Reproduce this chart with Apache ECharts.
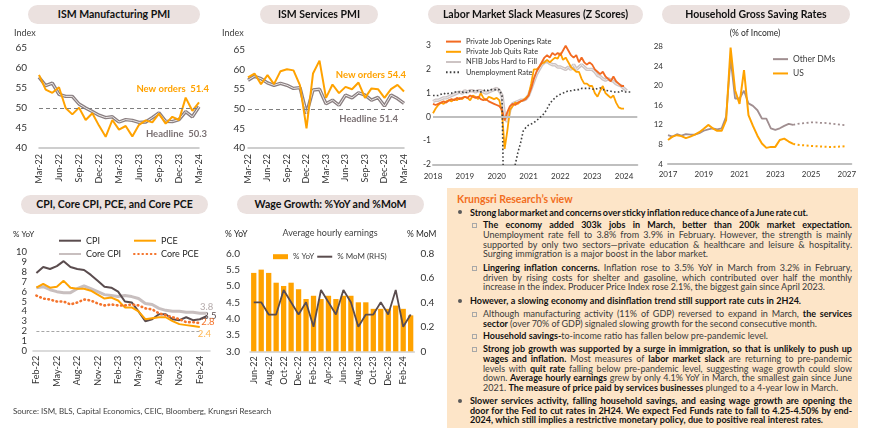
<!DOCTYPE html>
<html><head><meta charset="utf-8">
<script src="https://cdn.jsdelivr.net/npm/echarts@6.0.0/dist/echarts.min.js"></script>
<style>
html,body{margin:0;padding:0;background:#fff;}
body{width:870px;height:438px;position:relative;overflow:hidden;font-family:Lato,'Noto Sans',sans-serif;}
.ch{position:absolute;}
.pill{position:absolute;height:19px;line-height:19px;border-radius:10px;background:#ebe1df;text-align:center;font-weight:700;font-size:10.5px;color:#111;white-space:nowrap;}
#panel{position:absolute;left:447px;top:188px;width:411px;height:240px;background:#fde5c8;}
.ttl{position:absolute;font-size:10.5px;line-height:13px;font-weight:700;color:#f26d21;white-space:nowrap;}
.p{position:absolute;font-size:8.6px;line-height:9.65px;color:#3a3a3a;}
.p b{color:#111;font-weight:700;}
.pb{left:470px;width:382px;}
.ps{left:483px;width:369px;}
.ln{white-space:nowrap;}
.dot{position:absolute;left:458px;width:4px;height:4px;border-radius:2px;background:#595959;}
.sq{position:absolute;left:472px;width:2.5px;height:2.5px;border:0.8px solid #a8a8a8;}
.src{position:absolute;left:13px;top:405.5px;font-size:8px;line-height:10px;color:#404040;white-space:nowrap;}
</style></head>
<body>
<div id="c1" class="ch" style="left:0;top:0;width:215px;height:192px"></div>
<div id="c2" class="ch" style="left:215px;top:0;width:215px;height:192px"></div>
<div id="c3" class="ch" style="left:415px;top:0;width:230px;height:190px"></div>
<div id="c4" class="ch" style="left:645px;top:0;width:225px;height:190px"></div>
<div id="c5" class="ch" style="left:0;top:190px;width:222px;height:212px"></div>
<div id="c6" class="ch" style="left:220px;top:190px;width:225px;height:212px"></div>

<div class="pill" style="left:28px;top:5px;width:172px">ISM Manufacturing PMI</div>
<div class="pill" style="left:260px;top:5px;width:118px">ISM Services PMI</div>
<div class="pill" style="left:428px;top:5px;width:215px">Labor Market Slack Measures (Z Scores)</div>
<div class="pill" style="left:662px;top:5px;width:188px">Household Gross Saving Rates</div>
<div class="pill" style="left:21px;top:195px;width:187px">CPI, Core CPI, PCE, and Core PCE</div>
<div class="pill" style="left:237px;top:195px;width:187px">Wage Growth: %YoY and %MoM</div>

<div id="panel"></div>
<div class="ttl" style="left:457px;top:192.5px">Krungsri Research’s view</div>

<span class="dot" style="top:210.3px"></span>
<div class="p pb" style="top:207.5px"><div class="ln" data-w="338"><span><b>Strong labor market and concerns over sticky inflation reduce chance of a June rate cut.</b></span></div></div>

<span class="sq" style="top:223.4px"></span>
<div class="p ps" style="top:220.2px">
<div class="ln j" data-w="369"><span><b>The economy added 303k jobs in March, better than 200k market expectation.</b></span></div>
<div class="ln j" data-w="369"><span>Unemployment rate fell to 3.8% from 3.9% in February. However, the strength is mainly</span></div>
<div class="ln j" data-w="369"><span>supported by only two sectors—private education &amp; healthcare and leisure &amp; hospitality.</span></div>
<div class="ln" data-w="225"><span>Surging immigration is a major boost in the labor market.</span></div>
</div>

<span class="sq" style="top:266.1px"></span>
<div class="p ps" style="top:262.9px">
<div class="ln j" data-w="369"><span><b>Lingering inflation concerns.</b> Inflation rose to 3.5% YoY in March from 3.2% in February,</span></div>
<div class="ln j" data-w="369"><span>driven by rising costs for shelter and gasoline, which contributed over half the monthly</span></div>
<div class="ln" data-w="342"><span>increase in the index. Producer Price Index rose 2.1%, the biggest gain since April 2023.</span></div>
</div>

<span class="dot" style="top:298.7px"></span>
<div class="p pb" style="top:295.9px"><div class="ln" data-w="331"><span><b>However, a slowing economy and disinflation trend still support rate cuts in 2H24.</b></span></div></div>

<span class="sq" style="top:312.4px"></span>
<div class="p ps" style="top:309.2px">
<div class="ln j" data-w="369"><span>Although manufacturing activity (11% of GDP) reversed to expand in March, <b>the services</b></span></div>
<div class="ln" data-w="334"><span><b>sector</b> (over 70% of GDP) signaled slowing growth for the second consecutive month.</span></div>
</div>

<span class="sq" style="top:334.1px"></span>
<div class="p ps" style="top:330.9px">
<div class="ln" data-w="285"><span><b>Household savings-</b>to-income ratio has fallen below pre-pandemic level.</span></div>
</div>

<span class="sq" style="top:347.4px"></span>
<div class="p ps" style="top:344.2px">
<div class="ln j" data-w="369"><span><b>Strong job growth was supported by a surge in immigration, so that is unlikely to push up</b></span></div>
<div class="ln j" data-w="369"><span><b>wages and inflation.</b> Most measures of <b>labor market slack</b> are returning to pre-pandemic</span></div>
<div class="ln j" data-w="369"><span>levels with <b>quit rate</b> falling below pre-pandemic level, suggesting wage growth could slow</span></div>
<div class="ln j" data-w="369"><span>down. <b>Average hourly earnings</b> grew by only 4.1% YoY in March, the smallest gain since June</span></div>
<div class="ln" data-w="355"><span>2021. <b>The measure of price paid by services businesses</b> plunged to a 4-year low in March.</span></div>
</div>

<span class="dot" style="top:398.7px"></span>
<div class="p pb" style="top:395.9px">
<div class="ln j" data-w="382"><span><b>Slower services activity, falling household savings, and easing wage growth are opening the</b></span></div>
<div class="ln j" data-w="382"><span><b>door for the Fed to cut rates in 2H24. We expect Fed Funds rate to fall to 4.25-4.50% by end-</b></span></div>
<div class="ln" data-w="353"><span><b>2024, which still implies a restrictive monetary policy, due to positive real interest rates.</b></span></div>
</div>

<div class="src">Source: ISM, BLS, Capital Economics, CEIC, Bloomberg, Krungsri Research</div>

<script>
// ---------- DATA ----------
const pmiMonths = ['Mar-22','Apr-22','May-22','Jun-22','Jul-22','Aug-22','Sep-22','Oct-22','Nov-22','Dec-22','Jan-23','Feb-23','Mar-23','Apr-23','May-23','Jun-23','Jul-23','Aug-23','Sep-23','Oct-23','Nov-23','Dec-23','Jan-24','Feb-24','Mar-24'];
const mfgHeadline = [57.7,55.6,56.2,53.4,52.9,52.9,51.0,50.0,49.1,48.2,47.6,47.8,46.5,47.1,46.9,46.4,46.5,47.6,48.8,46.7,46.6,47.1,49.1,47.8,50.3];
const mfgNewOrders = [58.3,54.6,53.8,55.2,50.0,48.4,50.1,47.0,48.7,45.6,42.8,47.0,44.6,45.5,42.9,45.8,46.9,46.4,48.6,46.1,47.8,47.0,52.6,49.3,51.4];
const svcHeadline = [57.3,58.3,57.7,56.6,56.0,56.5,56.0,55.2,55.4,48.8,54.8,55.0,51.3,52.2,50.9,53.5,52.8,54.1,53.5,52.2,52.9,50.7,53.5,52.6,51.4];
const svcNewOrders = [58.0,59.0,56.3,58.6,56.3,59.6,60.1,59.8,56.0,45.0,59.0,62.3,52.8,56.2,54.0,55.6,55.0,56.7,52.8,55.2,55.0,52.8,55.0,56.1,54.4];

// Labor market slack, monthly from Jan 2018
const slackStartYear = 2018, slackMonthsCount = 78;
const jobOpenings = [0.55,0.5,0.55,0.6,0.65,0.6,0.7,0.75,0.7,0.8,0.75,0.8,
 0.85,0.8,0.9,0.85,0.8,0.85,0.75,0.7,0.75,0.65,0.6,0.55,
 0.5,0.45,0.3,-0.15,0.2,0.45,0.55,0.5,0.6,0.65,0.7,0.75,
 0.9,1.2,1.6,1.9,2.1,2.3,2.5,2.6,2.5,2.7,2.6,2.7,
 2.6,2.8,3.0,2.8,2.6,2.5,2.6,2.3,2.5,2.3,2.2,2.3,
 2.2,2.0,1.9,1.8,1.9,1.7,1.6,1.5,1.7,1.5,1.4,1.3,
 1.3];
const jobQuits = [0.15,0.35,0.5,0.6,0.55,0.65,0.7,0.65,0.75,0.7,0.8,0.75,
 0.85,0.8,0.7,0.9,0.85,0.75,1.0,0.8,0.7,0.85,0.8,0.75,
 0.8,0.7,0.2,-1.35,-0.6,0.3,0.45,0.6,0.55,0.65,0.7,0.8,
 0.9,1.4,2.0,2.0,2.1,2.25,2.3,2.4,2.3,2.4,2.5,2.45,
 2.7,2.4,2.5,2.3,2.1,2.0,1.9,1.9,1.6,1.4,1.4,1.3,
 1.3,1.0,0.85,1.1,1.3,1.0,0.9,0.8,0.9,0.6,0.4,0.35,
 0.35];
const nfibHardToFill = [0.65,0.7,0.7,0.75,0.8,0.8,0.85,0.9,0.95,1.0,1.05,1.0,
 1.1,1.05,1.1,1.1,1.05,1.1,1.1,1.05,1.0,1.05,1.1,1.15,
 1.2,1.1,0.9,0.0,-0.2,0.3,0.55,0.6,0.65,0.7,0.7,0.75,
 0.9,1.2,1.5,1.8,2.0,2.2,2.3,2.35,2.25,2.2,2.2,2.1,
 2.1,2.05,2.0,2.1,2.0,2.2,2.0,2.1,2.2,2.1,2.0,2.0,
 2.0,1.9,1.75,1.7,1.6,1.55,1.6,1.55,1.5,1.4,1.35,1.3,
 1.2,1.1];
const unemploymentRate = [0.9,0.9,0.9,0.95,1.0,0.95,1.0,1.0,1.05,1.05,1.05,1.05,
 1.0,1.05,1.1,1.1,1.1,1.1,1.05,1.1,1.15,1.1,1.15,1.15,
 1.15,1.15,0.9,-6.0,-5.2,-4.2,-3.0,-2.0,-1.5,-1.1,-0.6,-0.45,
 -0.35,-0.3,-0.25,-0.15,-0.07,0.05,0.15,0.35,0.55,0.7,0.8,0.9,
 0.95,1.0,1.05,1.1,1.1,1.12,1.15,1.15,1.2,1.2,1.2,1.2,
 1.18,1.15,1.2,1.22,1.15,1.12,1.1,1.08,1.05,1.05,1.05,1.1,
 1.05,1.05,1.05,1.05];

// Household gross saving rates, quarterly from 2017Q1
const savingStartYear = 2017, savingQuarterCount = 42, savingFcstStart = 28;
const usSaving = [8.9,9.6,9.9,9.7,9.3,9.6,10.0,10.5,11.2,12.0,11.3,10.8,10.8,13.0,27.8,19.1,16.3,23.2,14.0,11.8,9.8,8.2,7.3,7.5,7.5,8.9,9.2,8.6,8.1];
const usSavingFcst = [8.1,7.95,7.85,7.8,7.7,7.65,7.6,7.55,7.5,7.5,7.55,7.6,7.7];
const dmSaving = [9.9,9.6,10.1,9.8,10.1,10.0,10.0,10.3,10.8,11.1,11.3,11.1,11.3,13.7,25.6,17.4,17.4,19.0,16.4,15.9,15.0,13.3,13.3,11.3,11.0,11.3,11.8,12.2,12.0];
const dmSavingFcst = [12.0,12.2,12.3,12.4,12.5,12.5,12.4,12.4,12.3,12.2,12.1,12.0,11.9];

// Inflation
const inflMonths = ['Feb-22','Mar-22','Apr-22','May-22','Jun-22','Jul-22','Aug-22','Sep-22','Oct-22','Nov-22','Dec-22','Jan-23','Feb-23','Mar-23','Apr-23','May-23','Jun-23','Jul-23','Aug-23','Sep-23','Oct-23','Nov-23','Dec-23','Jan-24','Feb-24','Mar-24'];
const cpi = [7.9,8.5,8.3,8.6,9.1,8.5,8.3,8.2,7.7,7.1,6.5,6.4,6.0,5.0,4.9,4.0,3.0,3.2,3.7,3.7,3.2,3.1,3.4,3.1,3.2,3.5];
const coreCpi = [6.4,6.5,6.2,6.0,5.9,5.9,6.3,6.6,6.3,6.0,5.7,5.6,5.5,5.6,5.5,5.3,4.8,4.7,4.3,4.1,4.0,4.0,3.9,3.9,3.8,3.8];
const pce = [6.4,6.8,6.4,6.5,7.1,6.4,6.3,6.3,6.1,5.7,5.3,5.4,5.1,4.4,4.4,4.0,3.2,3.3,3.4,3.4,3.0,2.7,2.6,2.5,2.4];
const corePce = [5.6,5.3,5.2,5.0,5.0,4.7,4.9,5.2,5.1,4.8,4.6,4.7,4.6,4.6,4.7,4.6,4.3,4.2,3.8,3.6,3.4,3.2,2.9,2.9,2.8];
const inflEndLabels = ['3.8','3.5','2.8','2.4'];

// Wages
const wageMonths = ['Jun-22','Jul-22','Aug-22','Sep-22','Oct-22','Nov-22','Dec-22','Jan-23','Feb-23','Mar-23','Apr-23','May-23','Jun-23','Jul-23','Aug-23','Sep-23','Oct-23','Nov-23','Dec-23','Jan-24','Feb-24','Mar-24'];
const aheYoy = [5.4,5.5,5.4,5.1,5.0,5.1,4.9,4.6,4.7,4.6,4.7,4.6,4.7,4.7,4.5,4.5,4.3,4.3,4.3,4.4,4.3,4.1];
const aheMom = [0.4,0.4,0.3,0.3,0.5,0.4,0.3,0.4,0.2,0.5,0.4,0.3,0.5,0.4,0.2,0.3,0.3,0.4,0.3,0.5,0.2,0.3];

// ---------- HELPERS ----------
const FONT = 'Lato, "Noto Sans", sans-serif';
const GRAY = '#bfbfbf', LAB = '#333';
const ORANGE = '#ffa200', RED = '#f26a21';
function mk(id, opt){
  const ch = echarts.init(document.getElementById(id), null, {renderer:'canvas'});
  opt.animation = false;
  opt.textStyle = {fontFamily: FONT};
  ch.setOption(opt);
  return ch;
}
function txt(x, y, text, o){
  return {type:'text', x:x, y:y, silent:true, style:Object.assign({text:text, fontSize:9, fill:'#404040', fontFamily:FONT, align:'left', verticalAlign:'middle'}, o||{})};
}
const padNull = (arr, n) => Array(n).fill(null).concat(arr);
const slackCats = [];
for (let i = 0; i < slackMonthsCount; i++) { const y = slackStartYear + Math.floor(i/12), m = i%12+1; slackCats.push(y + '-' + (m<10?'0':'') + m); }
const savingCats = [];
for (let i = 0; i < savingQuarterCount; i++) { savingCats.push((savingStartYear + Math.floor(i/4)) + ' Q' + (i%4+1)); }
const NOSYM = {opacity:0};

function pmiOption(headline, newOrders, grid, yMargin, graphic){
  return {
    grid: Object.assign({outerBoundsMode:'none'}, grid),
    xAxis: {type:'category', data:pmiMonths, boundaryGap:false,
      axisLine:{lineStyle:{color:GRAY, width:1.5}}, axisTick:{show:false},
      axisLabel:{interval:2, rotate:90, fontSize:9, color:LAB, margin:6}},
    yAxis: {type:'value', min:40, max:65, interval:5, splitLine:{show:false},
      axisLine:{show:false}, axisTick:{show:false},
      axisLabel:{fontSize:10, color:LAB, margin:yMargin}},
    series: [
      {name:'Headline', type:'line', data:headline, symbol:'none', z:2,
        lineStyle:{color:'#8a7f81', width:3.4},
        markLine:{silent:true, symbol:'none', label:{show:false}, emphasis:{disabled:true},
          lineStyle:{color:'#7f7f7f', type:[4,3], width:1.2}, data:[{yAxis:50}]}},
      {name:'Headline inner', type:'line', data:headline, symbol:'none', silent:true, z:3,
        lineStyle:{color:'#ece8e8', width:1}},
      {name:'New orders', type:'line', data:newOrders, symbol:'none', z:4,
        lineStyle:{color:ORANGE, width:2}}
    ],
    graphic: graphic
  };
}

// ---------- CHART 1 ----------
mk('c1', pmiOption(mfgHeadline, mfgNewOrders, {left:39, top:48, width:160, height:100}, 12, [
  txt(14, 33, 'Index'),
  txt(209, 89, 'New orders  51.4', {align:'right', fontWeight:'bold', fontSize:9.5, fill:ORANGE}),
  txt(207, 134, 'Headline  50.3', {align:'right', fontWeight:'bold', fontSize:9.5, fill:'#7b7173'})
]));

// ---------- CHART 2 ----------
mk('c2', pmiOption(svcHeadline, svcNewOrders, {left:33, top:50, width:156, height:98}, 3, [
  txt(7, 33, 'Index'),
  txt(191, 75, 'New orders 54.4', {align:'right', fontWeight:'bold', fontSize:9.5, fill:ORANGE}),
  txt(183, 119, 'Headline 51.4', {align:'right', fontWeight:'bold', fontSize:9.5, fill:'#7b7173'})
]));

// ---------- CHART 3 ----------
mk('c3', {
  grid:{left:18, top:45.7, width:204.3, height:118.6, outerBoundsMode:'none'},
  legend:{orient:'vertical', left:25, top:31.5, itemWidth:15, itemHeight:8, itemGap:0, z:20,
    itemStyle:NOSYM,
    textStyle:{fontSize:7.4, color:'#333', lineHeight:10.2},
    data:['Private Job Openings Rate','Private Job Quits Rate','NFIB Jobs Hard to Fill','Unemployment Rate']},
  xAxis:{type:'category', data:slackCats, boundaryGap:false,
    axisLine:{onZero:false, lineStyle:{color:GRAY, width:2}}, axisTick:{show:false},
    axisLabel:{interval:(i)=>i%12===0, formatter:(v)=>v.slice(0,4), fontSize:8, color:LAB, margin:8}},
  yAxis:{type:'value', min:-2, max:3, interval:1, splitLine:{show:false},
    axisLine:{show:false}, axisTick:{show:false}, axisLabel:{fontSize:8.5, color:LAB, margin:2}},
  series:[
    {name:'NFIB Jobs Hard to Fill', type:'line', data:nfibHardToFill, symbol:'none', z:2,
      lineStyle:{color:'#cdc4c4', width:3.4},
      markLine:{silent:true, symbol:'none', label:{show:false}, emphasis:{disabled:true},
        lineStyle:{color:GRAY, type:'solid', width:2}, data:[{yAxis:0}]}},
    {name:'NFIB inner', type:'line', data:nfibHardToFill, symbol:'none', silent:true, z:2,
      lineStyle:{color:'#eeeaea', width:1}},
    {name:'Private Job Quits Rate', type:'line', data:jobQuits, symbol:'none', z:3,
      lineStyle:{color:ORANGE, width:1.8}},
    {name:'Private Job Openings Rate', type:'line', data:jobOpenings, symbol:'none', z:4,
      lineStyle:{color:RED, width:1.8}},
    {name:'Unemployment Rate', type:'line', data:unemploymentRate, symbol:'none', z:5,
      lineStyle:{color:'#404040', width:1.6, type:[1.6,2.2]}}
  ]
});

// ---------- CHART 4 ----------
mk('c4', {
  grid:{left:23, top:46.7, width:183.3, height:117.3, outerBoundsMode:'none'},
  legend:{orient:'vertical', left:122, top:49, itemWidth:15, itemHeight:8, itemGap:4,
    itemStyle:NOSYM,
    textStyle:{fontSize:8.5, color:'#404040', lineHeight:10.3}, data:['Other DMs','US']},
  xAxis:{type:'category', data:savingCats, boundaryGap:false,
    axisLine:{lineStyle:{color:GRAY, width:2}}, axisTick:{show:false},
    axisLabel:{interval:7, formatter:(v)=>v.slice(0,4), fontSize:8, color:LAB, margin:6}},
  yAxis:{type:'value', min:4, max:28, interval:4, splitLine:{show:false},
    axisLine:{show:false}, axisTick:{show:false}, axisLabel:{fontSize:8, color:LAB, margin:5}},
  series:[
    {name:'Other DMs', type:'line', data:dmSaving, symbol:'none', lineStyle:{color:'#a08e90', width:1.8}},
    {name:'Other DMs forecast', type:'line', data:padNull(dmSavingFcst, savingFcstStart), symbol:'none',
      lineStyle:{color:'#a08e90', width:1.8, type:[2,2.5]}},
    {name:'US', type:'line', data:usSaving, symbol:'none', lineStyle:{color:ORANGE, width:2}},
    {name:'US forecast', type:'line', data:padNull(usSavingFcst, savingFcstStart), symbol:'none',
      lineStyle:{color:ORANGE, width:2, type:[2,2.5]}}
  ],
  graphic:[txt(110, 33, '(% of Income)', {align:'center', fontSize:8.5, fill:'#262626'})]
});

// ---------- CHART 5 ----------
mk('c5', {
  grid:{left:33, top:62.3, width:177, height:98.4, outerBoundsMode:'none'},
  legend:[
    {orient:'vertical', left:53, top:40.7, itemWidth:22, itemHeight:8, itemGap:3.3, itemStyle:NOSYM,
      textStyle:{fontSize:9, color:'#262626', lineHeight:10}, data:['CPI','Core CPI']},
    {orient:'vertical', left:128, top:40.7, itemWidth:22, itemHeight:8, itemGap:3.3, itemStyle:NOSYM,
      textStyle:{fontSize:9, color:'#262626', lineHeight:10}, data:['PCE','Core PCE']}
  ],
  xAxis:{type:'category', data:inflMonths, boundaryGap:true,
    axisLine:{lineStyle:{color:'#d0d0d0', width:1.5}}, axisTick:{show:false},
    axisLabel:{interval:2, rotate:90, fontSize:9, color:LAB, margin:5}},
  yAxis:{type:'value', min:0, max:10, interval:1, splitLine:{show:false},
    axisLine:{show:false}, axisTick:{show:false}, axisLabel:{fontSize:9.5, color:LAB, margin:6}},
  series:[
    {name:'Core CPI', type:'line', data:coreCpi, symbol:'none', z:2, lineStyle:{color:'#c8bfbf', width:3},
      markLine:{silent:true, symbol:'none', label:{show:false}, emphasis:{disabled:true},
        lineStyle:{color:'#a6a6a6', type:[3,2], width:1}, data:[[{coord:[0,2]},{coord:[24,2]}]]}},
    {name:'CPI', type:'line', data:cpi, symbol:'none', z:3, lineStyle:{color:'#5a4c4e', width:2}},
    {name:'PCE', type:'line', data:pce, symbol:'none', z:4, lineStyle:{color:ORANGE, width:2}},
    {name:'Core PCE', type:'line', data:corePce, symbol:'none', z:5,
      lineStyle:{color:'#f4732b', width:2.6, type:[0.6,3.6], cap:'round'}}
  ],
  graphic:[
    txt(13, 44.3, '% YoY', {fontSize:8, fill:'#262626'}),
    txt(206.7, 117.3, inflEndLabels[0], {align:'center', fontSize:9.5, fill:'#b3a9a9'}),
    txt(210, 125.7, inflEndLabels[1], {align:'center', fontSize:9.5, fill:'#5a4c4e'}),
    txt(208, 132.3, inflEndLabels[2], {align:'center', fontSize:9.5, fill:'#f4732b'}),
    txt(204.5, 144, inflEndLabels[3], {align:'center', fontSize:9.5, fill:'#ffb54d'})
  ]
});

// ---------- CHART 6 ----------
mk('c6', {
  grid:{left:30, top:63.3, width:164.4, height:98, outerBoundsMode:'none'},
  legend:{orient:'horizontal', left:48, top:56.7, itemWidth:15, itemHeight:5, itemGap:2,
    textStyle:{fontSize:8, color:'#404040', lineHeight:10},
    data:[{name:'% YoY', icon:'rect'}, {name:'% MoM (RHS)', itemStyle:{opacity:0}}]},
  xAxis:{type:'category', data:wageMonths, boundaryGap:true,
    axisLine:{lineStyle:{color:'#d0d0d0', width:1.5}}, axisTick:{show:false},
    axisLabel:{interval:1, rotate:90, fontSize:9, color:LAB, margin:5}},
  yAxis:[
    {type:'value', min:3, max:6, interval:0.5, splitLine:{show:false}, axisLine:{show:false}, axisTick:{show:false},
      axisLabel:{fontSize:10, color:LAB, margin:10, formatter:(v)=>v.toFixed(1)}},
    {type:'value', position:'right', min:0, max:0.8, interval:0.2, splitLine:{show:false}, axisLine:{show:false}, axisTick:{show:false},
      axisLabel:{fontSize:10, color:LAB, margin:6, formatter:(v)=> v===0 ? '0' : v.toFixed(1)}}
  ],
  series:[
    {name:'% YoY', type:'bar', data:aheYoy, barWidth:5.3, itemStyle:{color:ORANGE}},
    {name:'% MoM (RHS)', type:'line', yAxisIndex:1, data:aheMom, symbol:'none', z:4,
      lineStyle:{color:'#5a4c4e', width:1.8}}
  ],
  graphic:[
    txt(5, 44.3, '% YoY', {fontSize:8.5, fill:'#262626'}),
    txt(110, 43.5, 'Average hourly earnings', {align:'center', fontSize:9, fill:'#404040'}),
    txt(187, 44.3, '% MoM', {fontSize:8.5, fill:'#262626'})
  ]
});

// ---------- text fitting: match reference line lengths ----------
function fitText(){
  const lines = Array.from(document.querySelectorAll('.ln'));
  const paras = Array.from(document.querySelectorAll('.p'));
  lines.forEach(el => { el.style.wordSpacing = '0px'; });
  paras.forEach(p => { p.style.fontSize = '8.6px'; });
  let sumT = 0, sumW = 0;
  lines.filter(el => !el.classList.contains('j')).forEach(el => {
    sumT += +el.dataset.w; sumW += el.firstElementChild.getBoundingClientRect().width;
  });
  const fs = Math.min(9.6, Math.max(7.8, 8.6 * sumT / sumW));
  paras.forEach(p => { p.style.fontSize = fs + 'px'; });
  lines.forEach(el => {
    const s = el.firstElementChild;
    const w = s.getBoundingClientRect().width;
    const n = (s.textContent.match(/ /g) || []).length;
    if (n > 0) el.style.wordSpacing = ((+el.dataset.w - w) / n) + 'px';
  });
}
fitText();
if (document.fonts && document.fonts.ready) document.fonts.ready.then(fitText);
</script>
</body></html>
